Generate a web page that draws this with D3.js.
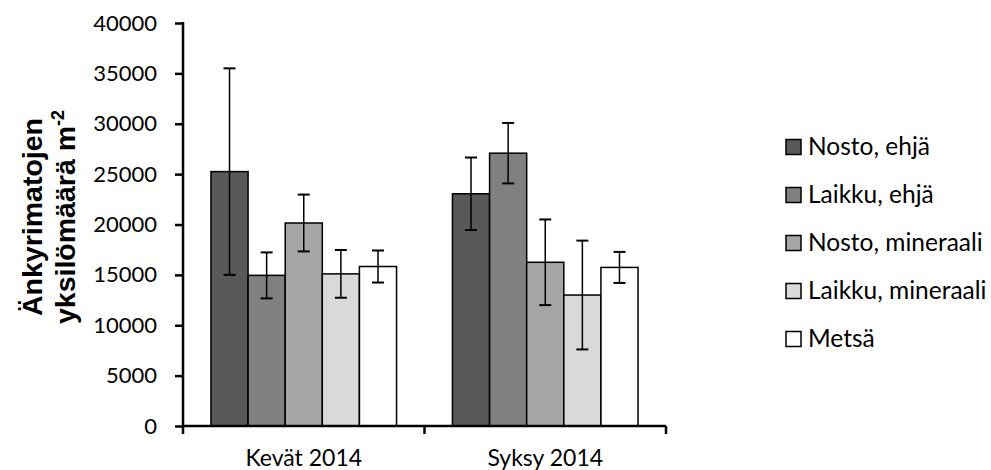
<!DOCTYPE html>
<html>
<head>
<meta charset="utf-8">
<script src="https://cdn.jsdelivr.net/npm/d3@7"></script>
<style>
  html, body { margin: 0; padding: 0; background: #ffffff; }
  svg { display: block; }
</style>
</head>
<body>
<svg id="chart" width="991" height="470"></svg>
<script>
// ---- data ----
const categories = ["Kevät 2014", "Syksy 2014"];
const seriesNames = ["Nosto, ehjä", "Laikku, ehjä", "Nosto, mineraali", "Laikku, mineraali", "Metsä"];
const seriesColors = ["#595959", "#808080", "#a6a6a6", "#d9d9d9", "#ffffff"];
// mean values per series, in category order
const noStoEhja      = [25250, 23050];
const laikkuEhja     = [14950, 27080];
const nostoMineraali = [20150, 16250];
const laikkuMineraali= [15100, 13000];
const metsa          = [15830, 15740];
// error (± value) per series, in category order
const errNostoEhja      = [10250, 3600];
const errLaikkuEhja     = [2280, 3000];
const errNostoMineraali = [2820, 4250];
const errLaikkuMineraali= [2370, 5400];
const errMetsa          = [1590, 1540];
const yTicks = [0, 5000, 10000, 15000, 20000, 25000, 30000, 35000, 40000];

const seriesValues = [noStoEhja, laikkuEhja, nostoMineraali, laikkuMineraali, metsa];
const seriesErrors = [errNostoEhja, errLaikkuEhja, errNostoMineraali, errLaikkuMineraali, errMetsa];

const rows = [];
categories.forEach((c, ci) => {
  seriesNames.forEach((s, si) => {
    rows.push({cat: c, series: s, value: seriesValues[si][ci], err: seriesErrors[si][ci], color: seriesColors[si]});
  });
});

// ---- layout ----
const svg = d3.select("#chart");
const plotLeft = 183, plotRight = 666, plotTop = 23, plotBottom = 426;
const font = "Lato, 'Open Sans', sans-serif";

const x0 = d3.scaleBand().domain(categories).range([plotLeft, plotRight])
  .paddingInner(0.2315).paddingOuter(0.2315 / 2);
const x1 = d3.scaleBand().domain(seriesNames).range([0, x0.bandwidth()]).padding(0);
const y = d3.scaleLinear().domain([0, 40000]).range([plotBottom, plotTop]);

// bars
const g = svg.append("g");
g.selectAll("rect.bar").data(rows).enter().append("rect")
  .attr("class", "bar")
  .attr("x", d => x0(d.cat) + x1(d.series))
  .attr("y", d => y(d.value))
  .attr("width", x1.bandwidth())
  .attr("height", d => y(0) - y(d.value))
  .attr("fill", d => d.color)
  .attr("stroke", "#000")
  .attr("stroke-width", 1.5);

// error bars
const capHalf = 6;
const eb = g.selectAll("g.err").data(rows).enter().append("g").attr("class", "err");
eb.append("line")
  .attr("x1", d => x0(d.cat) + x1(d.series) + x1.bandwidth() / 2)
  .attr("x2", d => x0(d.cat) + x1(d.series) + x1.bandwidth() / 2)
  .attr("y1", d => y(d.value + d.err))
  .attr("y2", d => y(d.value - d.err))
  .attr("stroke", "#000").attr("stroke-width", 1.5);
["+", "-"].forEach(sign => {
  eb.append("line")
    .attr("x1", d => x0(d.cat) + x1(d.series) + x1.bandwidth() / 2 - capHalf)
    .attr("x2", d => x0(d.cat) + x1(d.series) + x1.bandwidth() / 2 + capHalf)
    .attr("y1", d => y(sign === "+" ? d.value + d.err : d.value - d.err))
    .attr("y2", d => y(sign === "+" ? d.value + d.err : d.value - d.err))
    .attr("stroke", "#000").attr("stroke-width", 2);
});

// y axis
const yAxis = d3.axisLeft(y).tickValues(yTicks).tickSize(8).tickPadding(18)
  .tickFormat(d3.format("d"));
const yg = svg.append("g").attr("transform", `translate(${plotLeft},0)`).call(yAxis);
yg.select(".domain").attr("stroke", "#000").attr("stroke-width", 2.5)
  .attr("d", `M0,${plotTop - 1}V${plotBottom}`);
yg.selectAll(".tick line").attr("stroke", "#000").attr("stroke-width", 2.5);
yg.selectAll(".tick text").attr("font-family", font).attr("font-size", 22).attr("fill", "#000");

// x axis
const xAxis = d3.axisBottom(x0).tickSize(0).tickPadding(0);
const xg = svg.append("g").attr("transform", `translate(0,${plotBottom})`).call(xAxis);
xg.select(".domain").attr("stroke", "#000").attr("stroke-width", 2.5)
  .attr("d", `M${plotLeft},0H${plotRight}`);
xg.selectAll(".tick text").attr("font-family", font).attr("font-size", 23).attr("fill", "#000")
  .attr("y", 40).attr("dy", 0);
// category boundary ticks
const bounds = [plotLeft].concat(categories.map(c => x0(c) - x0.step() * x0.paddingInner() / 2 + x0.step()));
xg.selectAll("line.bound").data(bounds).enter().append("line")
  .attr("class", "bound")
  .attr("x1", d => d).attr("x2", d => d)
  .attr("y1", 0).attr("y2", 8)
  .attr("stroke", "#000").attr("stroke-width", 2.5);

// y title
const titleCenterY = 217;
const t = svg.append("text")
  .attr("transform", `translate(0,${titleCenterY}) rotate(-90)`)
  .attr("text-anchor", "middle")
  .attr("font-family", "'Liberation Sans', Arial, sans-serif")
  .attr("font-weight", "bold")
  .attr("font-size", 28.5)
  .attr("fill", "#000");
t.append("tspan").attr("x", 0).attr("y", 42).text("Änkyrimatojen");
const l2 = t.append("tspan").attr("x", 0).attr("y", 75);
l2.append("tspan").text("yksilömäärä m");
l2.append("tspan").attr("dy", -11).attr("font-size", 18).text("-2");

// legend
const legend = svg.append("g").attr("transform", "translate(786,0)");
const legY = d3.scalePoint().domain(seriesNames).range([147, 339]);
const li = legend.selectAll("g.li").data(seriesNames).enter().append("g")
  .attr("class", "li")
  .attr("transform", d => `translate(0,${legY(d)})`);
li.append("rect").attr("x", 0).attr("y", -7.5).attr("width", 15).attr("height", 15)
  .attr("fill", (d, i) => seriesColors[i]).attr("stroke", "#000").attr("stroke-width", 1.5);
li.append("text").attr("x", 22).attr("y", 8)
  .attr("font-family", font).attr("font-size", 24.5).attr("fill", "#000")
  .text(d => d);
</script>
</body>
</html>
